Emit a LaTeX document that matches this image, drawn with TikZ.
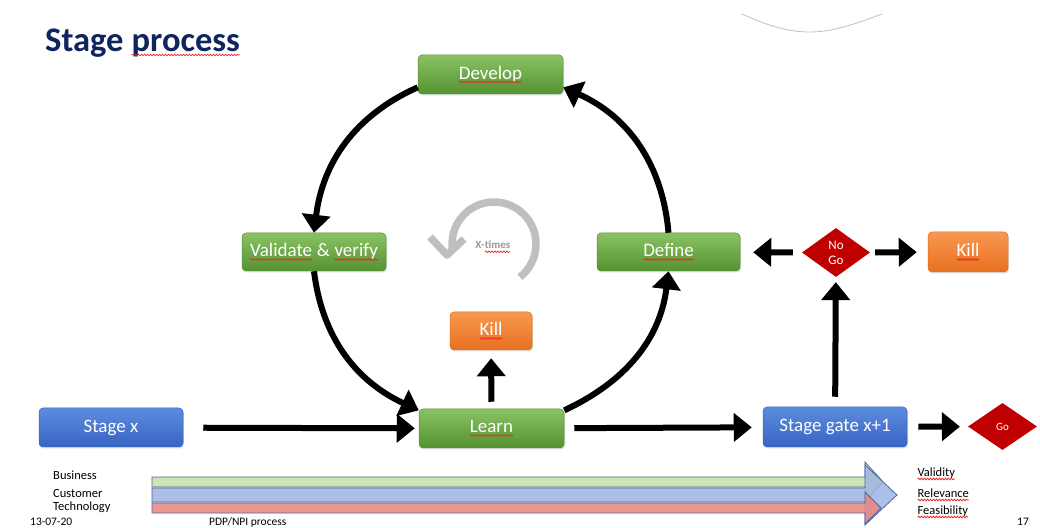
\documentclass[tikz,border=0pt]{standalone}
\usepackage{fontspec}
\setmainfont{Carlito}
\usetikzlibrary{arrows.meta,shapes.geometric,shadows,decorations.pathmorphing}

\definecolor{titlenavy}{RGB}{16,37,96}
\definecolor{gtop}{RGB}{138,194,98}
\definecolor{gbot}{RGB}{84,146,50}
\definecolor{btop}{RGB}{92,140,222}
\definecolor{bbot}{RGB}{56,100,196}
\definecolor{otop}{RGB}{248,152,80}
\definecolor{obot}{RGB}{232,112,32}
\definecolor{gatered}{RGB}{192,0,0}
\definecolor{spellred}{RGB}{235,40,40}
\definecolor{loopgray}{RGB}{191,191,191}
\definecolor{bargreen}{RGB}{197,224,166}
\definecolor{barblue}{RGB}{158,182,227}
\definecolor{barred}{RGB}{232,133,126}
\definecolor{barline}{RGB}{80,100,160}
\definecolor{swirl}{RGB}{176,196,214}

% drop shading, fills and shadows inherited from an enclosing node
\makeatletter
\tikzset{plainpath/.code={\let\tikz@mode\pgfutil@empty
  \let\tikz@preactions\pgfutil@empty\let\tikz@postactions\pgfutil@empty}}
\makeatother

% word with the red wavy underline of a spell checker
\newcommand\spellwave[1]{\tikz[baseline=(sw.base)]{%
  \node[plainpath, shape=rectangle, inner sep=0pt, outer sep=0pt, minimum width=0pt,
        minimum height=0pt, rounded corners=0pt] (sw) {#1};
  \path[plainpath, draw=spellred, sharp corners, line width=0.75pt, decorate,
        decoration={snake, amplitude=0.8pt, segment length=3pt}]
        ([yshift=-3pt]sw.base west) -- ([yshift=-3pt]sw.base east);}}

\tikzset{
  box/.style={rounded corners=4pt, text=white, inner sep=2pt,
    font=\fontsize{19}{22}\selectfont, line width=0.5pt,
    drop shadow={shadow xshift=1pt,shadow yshift=-1.5pt,opacity=0.25}},
  greenbox/.style={box, top color=gtop, bottom color=gbot, draw=gbot},
  bluebox/.style={box, top color=btop, bottom color=bbot, draw=bbot},
  orangebox/.style={box, top color=otop, bottom color=obot, draw=obot},
  gate/.style={diamond, fill=gatered, inner sep=0pt, text=white, align=center},
  flow/.style={line width=6pt, -{Triangle[length=18pt,width=28pt]}},
  bar/.style={draw=barline, line width=0.8pt, fill opacity=0.85},
  smalltext/.style={font=\fontsize{12.5}{14}\selectfont, anchor=base west},
  foot/.style={font=\fontsize{11.5}{13}\selectfont, anchor=base west},
}

\begin{document}
\begin{tikzpicture}[x=1pt,y=1pt]
  \useasboundingbox (0,0) rectangle (1040,527);
  \fill[white] (0,0) rectangle (1040,527);

  % title
  \node[anchor=base west, inner sep=0pt, text=titlenavy,
        font=\bfseries\fontsize{34.5}{40}\selectfont] (title) at (45,475)
        {Stage \spellwave{process}};

  % thin decorative swirl at the top right
  \draw[swirl, line width=0.8pt] (742,513) .. controls (770,500) and (790,495) .. (810,495)
        .. controls (835,495) and (860,505) .. (882,513);

  % process boxes
  \node[greenbox, minimum width=145pt, minimum height=39pt] (develop)  at (490.5,452.5) {\spellwave{Develop}};
  \node[greenbox, minimum width=144pt, minimum height=38pt] (validate) at (314,275) {\spellwave{Validate} \& \spellwave{verify}};
  \node[greenbox, minimum width=143pt, minimum height=38pt] (define)   at (668.5,275) {\spellwave{Define}};
  \node[greenbox, minimum width=145pt, minimum height=39pt] (learn)    at (491.5,98.5) {\spellwave{Learn}};
  \node[orangebox, minimum width=82pt, minimum height=38pt] (killc)    at (491,196) {\spellwave{Kill}};
  \node[orangebox, minimum width=80pt, minimum height=40pt] (killr)    at (968,275) {\spellwave{Kill}};
  \node[bluebox, minimum width=144pt, minimum height=39pt] (stagex)    at (111,99.5) {Stage x};
  \node[bluebox, minimum width=144pt, minimum height=40pt] (stagegate) at (835,100) {Stage gate x+1};

  % decision diamonds
  \node[gate, minimum width=68pt, minimum height=49pt, font=\fontsize{13}{15}\selectfont] (nogo) at (836,274.5) {No\\Go};
  \node[gate, minimum width=69pt, minimum height=47pt, font=\fontsize{11}{13}\selectfont] (go)   at (1002.5,100.5) {Go};

  % iteration loop in the middle of the cycle
  \node[text=loopgray!80!black, font=\bfseries\fontsize{11}{13}\selectfont] (xtimes) at (493,280) {X-\spellwave{times}};
  \draw[loopgray, line width=7.5pt] (494,283) ++(-52:42) arc[start angle=-52, end angle=186, radius=42];
  \draw[loopgray, line width=7.5pt, line join=round] (430,290) -- (447,272) -- (464,288);

  % the cycle
  \draw[flow] (develop.190) to[out=204, in=83]  (validate.north);
  \draw[flow] (validate.south) to[out=277, in=155] (learn.166);
  \draw[flow] (learn.14) to[out=25, in=263] (define.south);
  \draw[flow] (define.north) to[out=95, in=336] (develop.350);

  % straight connectors
  \draw[flow, shorten <=20pt, shorten >=4pt]  (stagex) -- (learn);
  \draw[flow, shorten <=10pt, shorten >=11pt] (learn) -- (stagegate);
  \draw[flow, shorten <=11pt, shorten >=8pt]  (stagegate) -- (go);
  \draw[flow, shorten <=7pt, shorten >=8pt]   (learn) -- (killc);
  \draw[flow, shorten <=10pt, shorten >=5pt]  (stagegate) -- (nogo);
  \draw[flow, shorten <=9pt, shorten >=13pt]  (nogo) -- (define);
  \draw[flow, shorten <=5pt, shorten >=11pt]  (nogo) -- (killr);

  % aspect bars along the process
  \filldraw[bar, fill=bargreen] (152,50) -- (865,50) -- (865,65) -- (883,45) -- (865,25) -- (865,40) -- (152,40) -- cycle;
  \filldraw[bar, fill=barblue]  (152,39) -- (865,39) -- (865,62) -- (897,32) -- (865,2)  -- (865,25) -- (152,25) -- cycle;
  \filldraw[bar, fill=barred]   (152,24) -- (865,24) -- (865,35) -- (881,19) -- (865,3)  -- (865,14) -- (152,14) -- cycle;

  % aspect labels
  \node[smalltext, inner sep=0pt] (business)   at (53,48) {Business};
  \node[smalltext, inner sep=0pt] (customer)   at (53,30) {Customer};
  \node[smalltext, inner sep=0pt] (technology) at (53,17) {Technology};
  \node[smalltext, inner sep=0pt] (validity)    at (917,51) {\spellwave{Validity}};
  \node[smalltext, inner sep=0pt] (relevance)   at (917,30) {\spellwave{Relevance}};
  \node[smalltext, inner sep=0pt] (feasibility) at (917,13) {\spellwave{Feasibility}};

  % footer
  \node[foot, inner sep=0pt] (date)  at (30,2)   {13-07-20};
  \node[foot, inner sep=0pt] (topic) at (209,2)  {PDP/NPI process};
  \node[foot, inner sep=0pt] (page)  at (1017,2) {17};
\end{tikzpicture}
\end{document}
